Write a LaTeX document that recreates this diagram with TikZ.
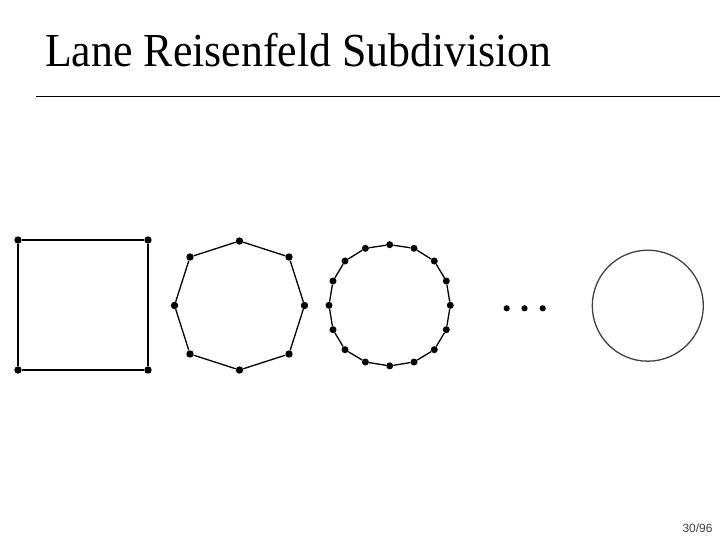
\documentclass[tikz,border=0pt]{standalone}
\usepackage{fontspec}
\setmainfont{Liberation Serif}
\newfontfamily\pagefont{Liberation Sans}
\begin{document}
\begin{tikzpicture}[x=1bp,y=-1bp,
  vtx/.style={circle,fill=black,inner sep=0pt,minimum size=7.4bp},
  edge/.style={draw=black,line width=1.3bp},
  dotsmark/.style={circle,fill=black,inner sep=0pt,minimum size=6.2bp},
  limitcurve/.style={draw=black!75,line width=1.3bp}]
\useasboundingbox (0,0) rectangle (720,540);
% title
\node[anchor=base west,inner sep=0pt,font=\fontsize{44}{50}\selectfont] (title) at (45,66.7)
  {\scalebox{1}[1.08]{Lane Reisenfeld Subdivision}};
\coordinate (ruleL) at (36,96.5);
\coordinate (ruleR) at (720,96.5);
\draw[line width=1bp] (ruleL) -- (ruleR);
% square
\foreach \n/\x/\y in {s1/18/240, s2/148/240, s3/148/370, s4/18/370}
  \node[vtx] (\n) at (\x,\y) {};
\draw[edge] (s1) -- (s2) -- (s3) -- (s4) -- (s1);
% octagon
\foreach \n/\x/\y in {o1/239.5/241, o2/289/257, o3/304.5/305.5, o4/289/354,
  o5/239.5/370, o6/190/354, o7/174.5/305.5, o8/190/257}
  \node[vtx] (\n) at (\x,\y) {};
\draw[edge] (o1) -- (o2) -- (o3) -- (o4) -- (o5) -- (o6) -- (o7) -- (o8) -- (o1);
% 16-gon
\foreach \n/\x/\y in {p1/389.7/244.7, p2/414/248.3, p3/434.3/261, p4/446.3/281,
  p5/450.3/305.3, p6/446.3/329.7, p7/434.3/349.7, p8/414/362,
  p9/389.7/365.9, p10/365.4/362, p11/345/349.7, p12/333/329.7,
  p13/329/305.3, p14/333/281, p15/345/261, p16/365.4/248.3}
  \node[vtx,minimum size=7bp] (\n) at (\x,\y) {};
\draw[edge] (p1) -- (p2) -- (p3) -- (p4) -- (p5) -- (p6) -- (p7) -- (p8) -- (p9)
  -- (p10) -- (p11) -- (p12) -- (p13) -- (p14) -- (p15) -- (p16) -- (p1);
% ellipsis
\node[dotsmark] (d1) at (506.7,308.3) {};
\node[dotsmark] (d2) at (524.5,308.3) {};
\node[dotsmark] (d3) at (542.7,308.3) {};
% limit curve
\node[circle,limitcurve,minimum size=111bp,inner sep=0pt] (limit) at (647.8,305.7) {};
% page number
\node[anchor=base east,inner sep=0pt,text=black!75,font=\pagefont\fontsize{12}{14}\selectfont] (pagenum) at (712.7,532.3) {30/96};
\end{tikzpicture}
\end{document}
